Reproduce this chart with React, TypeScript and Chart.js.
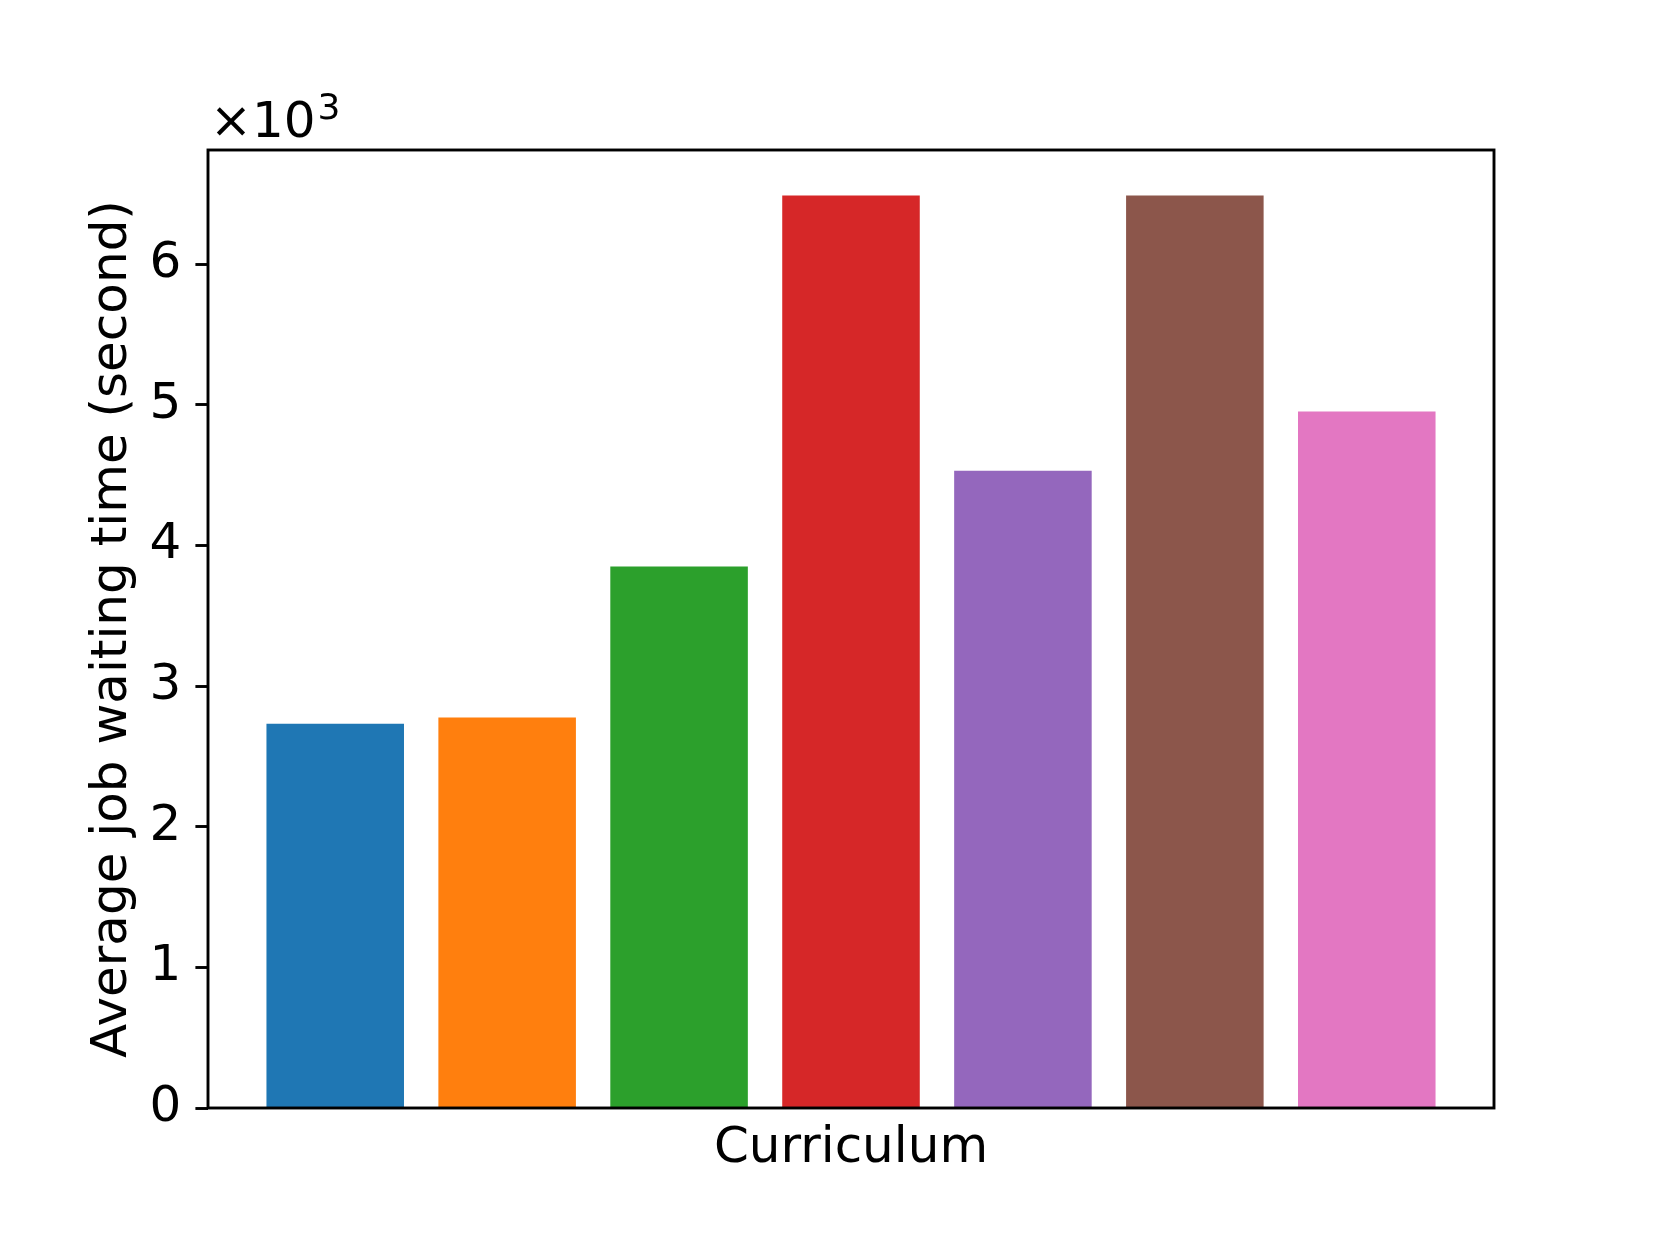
import React, { useEffect, useRef } from "react";
import { Chart, registerables } from "chart.js";

Chart.register(...registerables);

const categories = ["C1", "C2", "C3", "C4", "C5", "C6", "C7"];
const waitingSeconds = [2732, 2777, 3850, 6487, 4530, 6487, 4952];
const barColors = ["#1f77b4", "#ff7f0e", "#2ca02c", "#d62728", "#9467bd", "#8c564b", "#e377c2"];
const yTickValues = [0, 1000, 2000, 3000, 4000, 5000, 6000];
const xTitle = "Curriculum";
const yTitle = "Average job waiting time (second)";

const FONT = "'DejaVu Sans', sans-serif";

export default function App() {
  const ref = useRef<HTMLCanvasElement | null>(null);

  useEffect(() => {
    const canvas = ref.current;
    if (!canvas) return;
    const n = categories.length;
    const span = (n - 1) + 0.8;
    const xMin = -0.4 - 0.05 * span;
    const xMax = n - 1 + 0.4 + 0.05 * span;
    const yMax = Math.max(...waitingSeconds) * 1.05;

    const overlay = {
      id: "overlay",
      afterDatasetsDraw(chart: any) {
        const { ctx, chartArea } = chart;
        const { left, right, top, bottom } = chartArea;
        ctx.save();
        ctx.strokeStyle = "#000";
        ctx.lineWidth = 2.9;
        ctx.strokeRect(left, top, right - left, bottom - top);
        ctx.fillStyle = "#000";
        ctx.font = `50px ${FONT}`;
        ctx.textAlign = "center";
        ctx.textBaseline = "alphabetic";
        ctx.fillText(xTitle, (left + right) / 2, 1162);
        ctx.save();
        ctx.translate(126, (top + bottom) / 2);
        ctx.rotate(-Math.PI / 2);
        ctx.fillText(yTitle, 0, 0);
        ctx.restore();
        ctx.textAlign = "left";
        ctx.font = `50px ${FONT}`;
        const base = "\u00d710";
        ctx.fillText(base, 210, 137);
        const w = ctx.measureText(base).width;
        ctx.font = `36px ${FONT}`;
        ctx.fillText("3", 210 + w + 2, 119);
        ctx.restore();
      },
    };

    const chart = new Chart(canvas, {
      type: "bar",
      data: {
        datasets: [
          {
            label: "waiting",
            data: categories.map((c, i) => ({ x: i, y: waitingSeconds[i] })),
            backgroundColor: barColors,
            borderWidth: 0,
            barPercentage: 0.8,
            categoryPercentage: 1,
          },
        ],
      },
      options: {
        animation: false,
        responsive: false,
        devicePixelRatio: 1,
        layout: { padding: { left: 0, top: 150, right: 166, bottom: 137 } },
        plugins: { legend: { display: false }, tooltip: { enabled: false }, title: { display: false } },
        scales: {
          x: {
            type: "linear",
            min: xMin,
            max: xMax,
            display: false,
            offset: false,
            afterBuildTicks(scale: any) {
              scale.ticks = categories.map((c, i) => ({ value: i }));
            },
          },
          y: {
            type: "linear",
            min: 0,
            max: yMax,
            afterFit(scale: any) {
              scale.width = 208;
            },
            afterBuildTicks(scale: any) {
              scale.ticks = yTickValues.map((v) => ({ value: v }));
            },
            ticks: {
              color: "#000",
              font: { family: FONT, size: 50 },
              padding: 14,
              callback: (v: any) => String(Number(v) / 1000),
            },
            grid: {
              display: true,
              drawOnChartArea: false,
              drawTicks: true,
              tickLength: 12.6,
              tickColor: "#000",
              tickWidth: 2.9,
            },
            border: { display: false },
          },
        },
      },
      plugins: [overlay],
    } as any);
    return () => chart.destroy();
  }, []);

  return (
    <div style={{ position: "absolute", left: 0, top: 0, width: 1660, height: 1245, background: "#fff" }}>
      <canvas ref={ref} width={1660} height={1245} style={{ display: "block" }} />
    </div>
  );
}
